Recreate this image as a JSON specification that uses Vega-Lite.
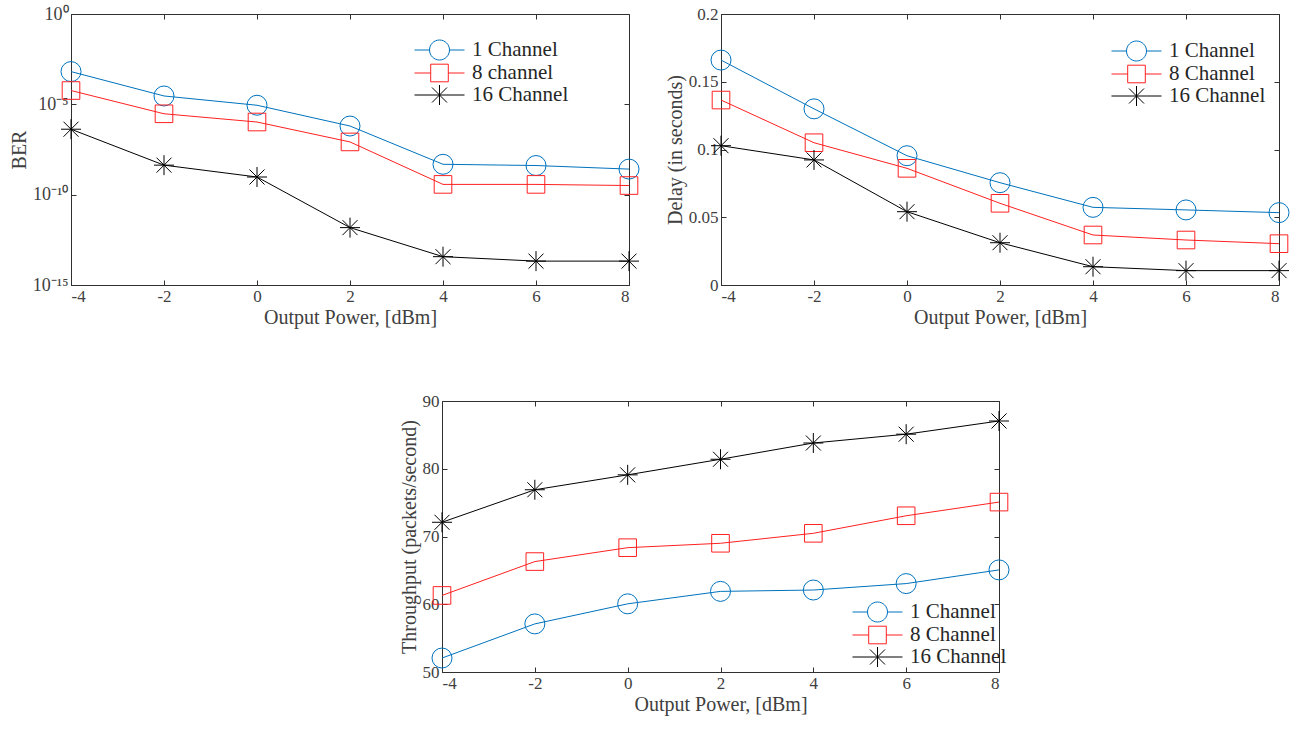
{
  "$schema": "https://vega.github.io/schema/vega-lite/v6.json",
  "padding": {"left": 8, "top": 4, "right": 5, "bottom": 5},
  "background": "white",
  "datasets": {
    "ber": [
      {"p": -4, "s": "1 Channel", "v": 6.5e-4}, {"p": -2, "s": "1 Channel", "v": 2.9e-5}, {"p": 0, "s": "1 Channel", "v": 8.9e-6}, {"p": 2, "s": "1 Channel", "v": 6.3e-7}, {"p": 4, "s": "1 Channel", "v": 4.8e-9}, {"p": 6, "s": "1 Channel", "v": 4.1e-9}, {"p": 8, "s": "1 Channel", "v": 2.6e-9},
      {"p": -4, "s": "8 channel", "v": 5.8e-5}, {"p": -2, "s": "8 channel", "v": 3.0e-6}, {"p": 0, "s": "8 channel", "v": 1.05e-6}, {"p": 2, "s": "8 channel", "v": 8.3e-8}, {"p": 4, "s": "8 channel", "v": 3.7e-10}, {"p": 6, "s": "8 channel", "v": 3.7e-10}, {"p": 8, "s": "8 channel", "v": 3.2e-10},
      {"p": -4, "s": "16 Channel", "v": 4.2e-7}, {"p": -2, "s": "16 Channel", "v": 4.3e-9}, {"p": 0, "s": "16 Channel", "v": 9.5e-10}, {"p": 2, "s": "16 Channel", "v": 1.5e-12}, {"p": 4, "s": "16 Channel", "v": 3.7e-14}, {"p": 6, "s": "16 Channel", "v": 2.1e-14}, {"p": 8, "s": "16 Channel", "v": 2.1e-14}
    ],
    "delay": [
      {"p": -4, "s": "1 Channel", "v": 0.166}, {"p": -2, "s": "1 Channel", "v": 0.130}, {"p": 0, "s": "1 Channel", "v": 0.0954}, {"p": 2, "s": "1 Channel", "v": 0.0755}, {"p": 4, "s": "1 Channel", "v": 0.0573}, {"p": 6, "s": "1 Channel", "v": 0.0554}, {"p": 8, "s": "1 Channel", "v": 0.0534},
      {"p": -4, "s": "8 Channel", "v": 0.1365}, {"p": -2, "s": "8 Channel", "v": 0.105}, {"p": 0, "s": "8 Channel", "v": 0.0861}, {"p": 2, "s": "8 Channel", "v": 0.0603}, {"p": 4, "s": "8 Channel", "v": 0.0369}, {"p": 6, "s": "8 Channel", "v": 0.0332}, {"p": 8, "s": "8 Channel", "v": 0.0305},
      {"p": -4, "s": "16 Channel", "v": 0.1028}, {"p": -2, "s": "16 Channel", "v": 0.0923}, {"p": 0, "s": "16 Channel", "v": 0.0541}, {"p": 2, "s": "16 Channel", "v": 0.0312}, {"p": 4, "s": "16 Channel", "v": 0.0135}, {"p": 6, "s": "16 Channel", "v": 0.0106}, {"p": 8, "s": "16 Channel", "v": 0.0106}
    ],
    "thr": [
      {"p": -4, "s": "1 Channel", "v": 52.06}, {"p": -2, "s": "1 Channel", "v": 57.1}, {"p": 0, "s": "1 Channel", "v": 60.06}, {"p": 2, "s": "1 Channel", "v": 61.9}, {"p": 4, "s": "1 Channel", "v": 62.1}, {"p": 6, "s": "1 Channel", "v": 63.05}, {"p": 8, "s": "1 Channel", "v": 65.07},
      {"p": -4, "s": "8 Channel", "v": 61.3}, {"p": -2, "s": "8 Channel", "v": 66.3}, {"p": 0, "s": "8 Channel", "v": 68.35}, {"p": 2, "s": "8 Channel", "v": 69.0}, {"p": 4, "s": "8 Channel", "v": 70.47}, {"p": 6, "s": "8 Channel", "v": 73.06}, {"p": 8, "s": "8 Channel", "v": 75.08},
      {"p": -4, "s": "16 Channel", "v": 72.1}, {"p": -2, "s": "16 Channel", "v": 76.9}, {"p": 0, "s": "16 Channel", "v": 79.1}, {"p": 2, "s": "16 Channel", "v": 81.4}, {"p": 4, "s": "16 Channel", "v": 83.8}, {"p": 6, "s": "16 Channel", "v": 85.1}, {"p": 8, "s": "16 Channel", "v": 87.05}
    ]
  },
  "config": {
    "font": "Liberation Serif",
    "view": {"stroke": "#303030", "strokeWidth": 1},
    "axis": {"labelFont": "Liberation Serif", "labelFontSize": 17, "labelColor": "#404040", "titleFont": "Liberation Serif", "titleFontSize": 20, "titleFontWeight": "normal", "titleColor": "#404040", "tickSize": -5, "labelPadding": 8, "tickColor": "#303030", "domainColor": "#303030", "grid": false, "titlePadding": 3},
    "legend": {"labelFont": "Liberation Serif", "labelFontSize": 21, "labelColor": "#262626", "padding": 0, "rowPadding": -4.5, "symbolSize": 400, "symbolStrokeWidth": 1, "labelOffset": 22, "symbolOpacity": 1, "symbolFillColor": "transparent",
      "symbolType": {"expr": "datum.value === '1 Channel' ? 'M-2.5,0L-1,0M1,0L2.5,0M-1,0A1,1,0,1,1,1,0A1,1,0,1,1,-1,0' : datum.value === '16 Channel' ? 'M-2.5,0L2.5,0M0,-1L0,1M-0.75,-0.75L0.75,0.75M-0.75,0.75L0.75,-0.75' : 'M-2.5,0L-0.88,0M0.88,0L2.5,0M-0.88,-0.88L0.88,-0.88L0.88,0.88L-0.88,0.88Z'"}}
  },
  "resolve": {"scale": {"color": "independent"}, "legend": {"color": "independent"}},
  "spacing": 63,
  "vconcat": [
    {
      "spacing": 22,
      "resolve": {"scale": {"color": "independent"}, "legend": {"color": "independent"}},
      "hconcat": [
        {
          "width": 558, "height": 271,
          "data": {"name": "ber"},
          "encoding": {
            "x": {"field": "p", "type": "quantitative", "scale": {"domain": [-4, 8], "nice": false, "zero": false}, "axis": {"orient": "bottom", "values": [-4, -2, 0, 2, 4, 6, 8], "title": "Output Power, [dBm]", "labelExpr": "'' + datum.value"}},
            "y": {"field": "v", "type": "quantitative", "scale": {"type": "log", "domain": [1e-15, 1], "nice": false}, "axis": {"orient": "left", "values": [1e-15, 1e-10, 1e-5, 1], "title": "BER", "labelFontSize": 18, "labelExpr": "datum.value > 0.5 ? '10⁰' : datum.value > 1e-6 ? '10⁻⁵' : datum.value > 1e-11 ? '10⁻¹⁰' : '10⁻¹⁵'"}},
            "color": {"field": "s", "type": "nominal", "scale": {"domain": ["1 Channel", "8 channel", "16 Channel"], "range": ["#0072BD", "#FF2020", "#000000"]},
              "legend": {"title": null, "orient": "none", "legendX": 358, "legendY": 25.5}}
          },
          "layer": [
            {"transform": [{"filter": "datum.s === '1 Channel'"}], "mark": {"type": "point", "filled": false, "shape": "circle", "size": 400, "strokeWidth": 1, "opacity": 1}},
            {"transform": [{"filter": "datum.s === '8 channel'"}], "mark": {"type": "point", "filled": false, "shape": "M-0.88,-0.88L0.88,-0.88L0.88,0.88L-0.88,0.88Z", "size": 400, "strokeWidth": 1, "opacity": 1},
             "encoding": {
               "x": {"field": "p", "type": "quantitative", "scale": {"domain": [-4, 8], "nice": false, "zero": false}, "axis": null},
               "y": {"field": "v", "type": "quantitative", "scale": {"type": "log", "domain": [1e-15, 1], "nice": false}, "axis": null}}},
            {"transform": [{"filter": "datum.s === '16 Channel'"}], "mark": {"type": "point", "filled": false, "shape": "M-1,0L1,0M0,-1L0,1M-0.75,-0.75L0.75,0.75M-0.75,0.75L0.75,-0.75", "size": 400, "strokeWidth": 1, "opacity": 1},
             "encoding": {
               "x": {"field": "p", "type": "quantitative", "scale": {"domain": [-4, 8], "nice": false, "zero": false}, "axis": null},
               "y": {"field": "v", "type": "quantitative", "scale": {"type": "log", "domain": [1e-15, 1], "nice": false}, "axis": null}}},
            {"mark": {"type": "line", "strokeWidth": 1},
             "encoding": {
               "x": {"field": "p", "type": "quantitative", "scale": {"domain": [-4, 8], "nice": false, "zero": false}, "axis": {"orient": "top", "values": [-4, -2, 0, 2, 4, 6, 8], "title": null, "labels": false, "domain": false}},
               "y": {"field": "v", "type": "quantitative", "scale": {"type": "log", "domain": [1e-15, 1], "nice": false}, "axis": {"orient": "right", "values": [1e-15, 1e-10, 1e-5, 1], "title": null, "labels": false, "domain": false}}}}
          ]
        },
        {
          "width": 558, "height": 271,
          "data": {"name": "delay"},
          "encoding": {
            "x": {"field": "p", "type": "quantitative", "scale": {"domain": [-4, 8], "nice": false, "zero": false}, "axis": {"orient": "bottom", "values": [-4, -2, 0, 2, 4, 6, 8], "title": "Output Power, [dBm]", "labelExpr": "'' + datum.value"}},
            "y": {"field": "v", "type": "quantitative", "scale": {"domain": [0, 0.2], "nice": false}, "axis": {"orient": "left", "values": [0, 0.05, 0.1, 0.15, 0.2], "title": "Delay (in seconds)", "labelExpr": "'' + datum.value"}},
            "color": {"field": "s", "type": "nominal", "scale": {"domain": ["1 Channel", "8 Channel", "16 Channel"], "range": ["#0072BD", "#FF2020", "#000000"]},
              "legend": {"title": null, "orient": "none", "legendX": 405, "legendY": 26.5}}
          },
          "layer": [
            {"transform": [{"filter": "datum.s === '1 Channel'"}], "mark": {"type": "point", "filled": false, "shape": "circle", "size": 400, "strokeWidth": 1, "opacity": 1}},
            {"transform": [{"filter": "datum.s === '8 Channel'"}], "mark": {"type": "point", "filled": false, "shape": "M-0.88,-0.88L0.88,-0.88L0.88,0.88L-0.88,0.88Z", "size": 400, "strokeWidth": 1, "opacity": 1},
             "encoding": {
               "x": {"field": "p", "type": "quantitative", "scale": {"domain": [-4, 8], "nice": false, "zero": false}, "axis": null},
               "y": {"field": "v", "type": "quantitative", "scale": {"domain": [0, 0.2], "nice": false}, "axis": null}}},
            {"transform": [{"filter": "datum.s === '16 Channel'"}], "mark": {"type": "point", "filled": false, "shape": "M-1,0L1,0M0,-1L0,1M-0.75,-0.75L0.75,0.75M-0.75,0.75L0.75,-0.75", "size": 400, "strokeWidth": 1, "opacity": 1},
             "encoding": {
               "x": {"field": "p", "type": "quantitative", "scale": {"domain": [-4, 8], "nice": false, "zero": false}, "axis": null},
               "y": {"field": "v", "type": "quantitative", "scale": {"domain": [0, 0.2], "nice": false}, "axis": null}}},
            {"mark": {"type": "line", "strokeWidth": 1},
             "encoding": {
               "x": {"field": "p", "type": "quantitative", "scale": {"domain": [-4, 8], "nice": false, "zero": false}, "axis": {"orient": "top", "values": [-4, -2, 0, 2, 4, 6, 8], "title": null, "labels": false, "domain": false}},
               "y": {"field": "v", "type": "quantitative", "scale": {"domain": [0, 0.2], "nice": false}, "axis": {"orient": "right", "values": [0, 0.05, 0.1, 0.15, 0.2], "title": null, "labels": false, "domain": false}}}}
          ]
        }
      ]
    },
    {
      "spacing": 0,
      "resolve": {"scale": {"color": "independent"}, "legend": {"color": "independent"}},
      "hconcat": [
        {"width": 327, "height": 10, "data": {"values": []}, "mark": "point", "view": {"stroke": null}},
        {
          "width": 557, "height": 271,
          "data": {"name": "thr"},
          "encoding": {
            "x": {"field": "p", "type": "quantitative", "scale": {"domain": [-4, 8], "nice": false, "zero": false}, "axis": {"orient": "bottom", "values": [-4, -2, 0, 2, 4, 6, 8], "title": "Output Power, [dBm]", "labelExpr": "'' + datum.value"}},
            "y": {"field": "v", "type": "quantitative", "scale": {"domain": [50, 90], "nice": false, "zero": false}, "axis": {"orient": "left", "values": [50, 60, 70, 80, 90], "title": "Throughput (packets/second)", "labelExpr": "'' + datum.value"}},
            "color": {"field": "s", "type": "nominal", "scale": {"domain": ["1 Channel", "8 Channel", "16 Channel"], "range": ["#0072BD", "#FF2020", "#000000"]},
              "legend": {"title": null, "orient": "none", "legendX": 425, "legendY": 200.5}}
          },
          "layer": [
            {"transform": [{"filter": "datum.s === '1 Channel'"}], "mark": {"type": "point", "filled": false, "shape": "circle", "size": 400, "strokeWidth": 1, "opacity": 1}},
            {"transform": [{"filter": "datum.s === '8 Channel'"}], "mark": {"type": "point", "filled": false, "shape": "M-0.88,-0.88L0.88,-0.88L0.88,0.88L-0.88,0.88Z", "size": 400, "strokeWidth": 1, "opacity": 1},
             "encoding": {
               "x": {"field": "p", "type": "quantitative", "scale": {"domain": [-4, 8], "nice": false, "zero": false}, "axis": null},
               "y": {"field": "v", "type": "quantitative", "scale": {"domain": [50, 90], "nice": false, "zero": false}, "axis": null}}},
            {"transform": [{"filter": "datum.s === '16 Channel'"}], "mark": {"type": "point", "filled": false, "shape": "M-1,0L1,0M0,-1L0,1M-0.75,-0.75L0.75,0.75M-0.75,0.75L0.75,-0.75", "size": 400, "strokeWidth": 1, "opacity": 1},
             "encoding": {
               "x": {"field": "p", "type": "quantitative", "scale": {"domain": [-4, 8], "nice": false, "zero": false}, "axis": null},
               "y": {"field": "v", "type": "quantitative", "scale": {"domain": [50, 90], "nice": false, "zero": false}, "axis": null}}},
            {"mark": {"type": "line", "strokeWidth": 1},
             "encoding": {
               "x": {"field": "p", "type": "quantitative", "scale": {"domain": [-4, 8], "nice": false, "zero": false}, "axis": {"orient": "top", "values": [-4, -2, 0, 2, 4, 6, 8], "title": null, "labels": false, "domain": false}},
               "y": {"field": "v", "type": "quantitative", "scale": {"domain": [50, 90], "nice": false, "zero": false}, "axis": {"orient": "right", "values": [50, 60, 70, 80, 90], "title": null, "labels": false, "domain": false}}}}
          ]
        }
      ]
    }
  ]
}
